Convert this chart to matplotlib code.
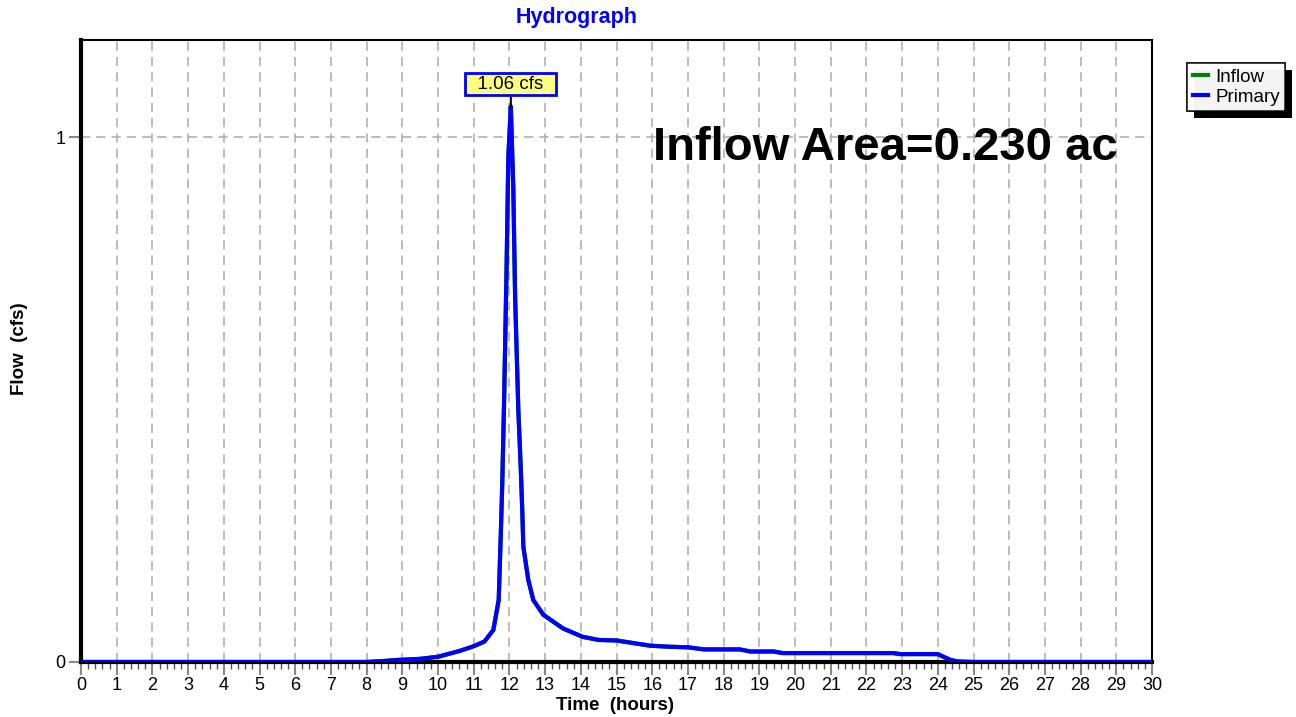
import matplotlib
matplotlib.use("Agg")
import matplotlib.pyplot as plt
import matplotlib.patheffects as pe
from matplotlib.ticker import MultipleLocator

plt.rcParams['font.family'] = ['Liberation Sans', 'DejaVu Sans']

# hydrograph (hours, cfs)
time_hr = [0, 8.0, 8.5, 8.9, 9.5, 10.0, 10.6, 11.0, 11.3, 11.55, 11.7, 11.76, 11.8,
           11.85, 11.92, 11.97, 12.04, 12.11, 12.16, 12.25, 12.32, 12.36, 12.39, 12.53,
           12.67, 12.95, 13.5, 14.05, 14.5, 15.0, 15.95, 16.5, 17.0, 17.45, 18.45, 18.75,
           19.4, 19.65, 22.4, 22.75, 22.95, 24.0, 24.35, 24.55, 25.0, 30.0]
primary_cfs = [0, 0, 0.002, 0.004, 0.006, 0.010, 0.021, 0.030, 0.039, 0.061, 0.118, 0.245, 0.34,
               0.493, 0.747, 0.962, 1.058, 0.90, 0.696, 0.48, 0.366, 0.29, 0.22, 0.156,
               0.118, 0.090, 0.064, 0.048, 0.042, 0.041, 0.031, 0.029, 0.028, 0.024, 0.024, 0.020,
               0.020, 0.017, 0.017, 0.017, 0.015, 0.015, 0.004, 0.001, 0, 0]
inflow_cfs = list(primary_cfs)
peak_label = "1.06 cfs"
area_text = "Inflow Area=0.230 ac"

fig = plt.figure(figsize=(12.96, 7.17), dpi=100)
ax = fig.add_axes([81/1296, 55/717, 1071/1296, 622/717])

ax.plot(time_hr, inflow_cfs, color='green', lw=3, label='Inflow', zorder=3)
ax.plot(time_hr, primary_cfs, color='blue', lw=3, label='Primary', zorder=4)

ax.set_xlim(0, 30)
ax.set_ylim(0, 1.185)
ax.xaxis.set_major_locator(MultipleLocator(1))
ax.xaxis.set_minor_locator(MultipleLocator(0.2))
ax.set_yticks([0, 1])
ax.set_yticklabels(['0', '1'])
ax.grid(True, which='major', color='#aaaaaa', linestyle=(0, (6, 4)), lw=1.1)
ax.set_axisbelow(True)

ax.tick_params(axis='both', which='major', color='#888888', length=9, width=1.5,
               labelsize=13, pad=2)
ax.tick_params(axis='x', which='minor', color='#555555', length=5, width=1)

for s in ['left', 'bottom']:
    ax.spines[s].set_linewidth(3)
for s in ['top', 'right']:
    ax.spines[s].set_linewidth(1.5)

# peak marker label
pk = primary_cfs.index(max(primary_cfs))
ax.annotate('  ' + peak_label + '  ', xy=(time_hr[pk], primary_cfs[pk]),
            xytext=(time_hr[pk], 1.101),
            ha='center', va='center', fontsize=13.5,
            bbox=dict(boxstyle='square,pad=0.12', fc='#ffff80', ec='blue', lw=2),
            arrowprops=dict(arrowstyle='-', color='black', lw=1.5, shrinkA=0, shrinkB=0),
            zorder=6)

ax.text(0.534, 0.826, area_text, transform=ax.transAxes, fontsize=34,
        fontweight='bold', ha='left', va='center')

fig.text(577/1296, 1 - 18/717, 'Hydrograph', color='blue', fontsize=15.5,
         fontweight='bold', ha='center', va='center')
fig.text(20/1296, 1 - 349/717, 'Flow  (cfs)', rotation=90, fontsize=13.5,
         fontweight='bold', ha='center', va='center')
fig.text(615/1296, 1 - 706/717, 'Time  (hours)', fontsize=13.5,
         fontweight='bold', ha='center', va='center')

leg = fig.legend(loc='upper left', bbox_to_anchor=(1187/1296, 1 - 63/717),
                 fontsize=13.5, frameon=True, fancybox=False, handlelength=0.8,
                 handletextpad=0.4, borderpad=0.3, labelspacing=0.15, borderaxespad=0)
fr = leg.get_frame()
fr.set_edgecolor('black')
fr.set_linewidth(1.2)
fr.set_path_effects([pe.withSimplePatchShadow(offset=(5, -5), shadow_rgbFace='black', alpha=1),
                     pe.Normal()])

fig.savefig('out.png', dpi=100)
